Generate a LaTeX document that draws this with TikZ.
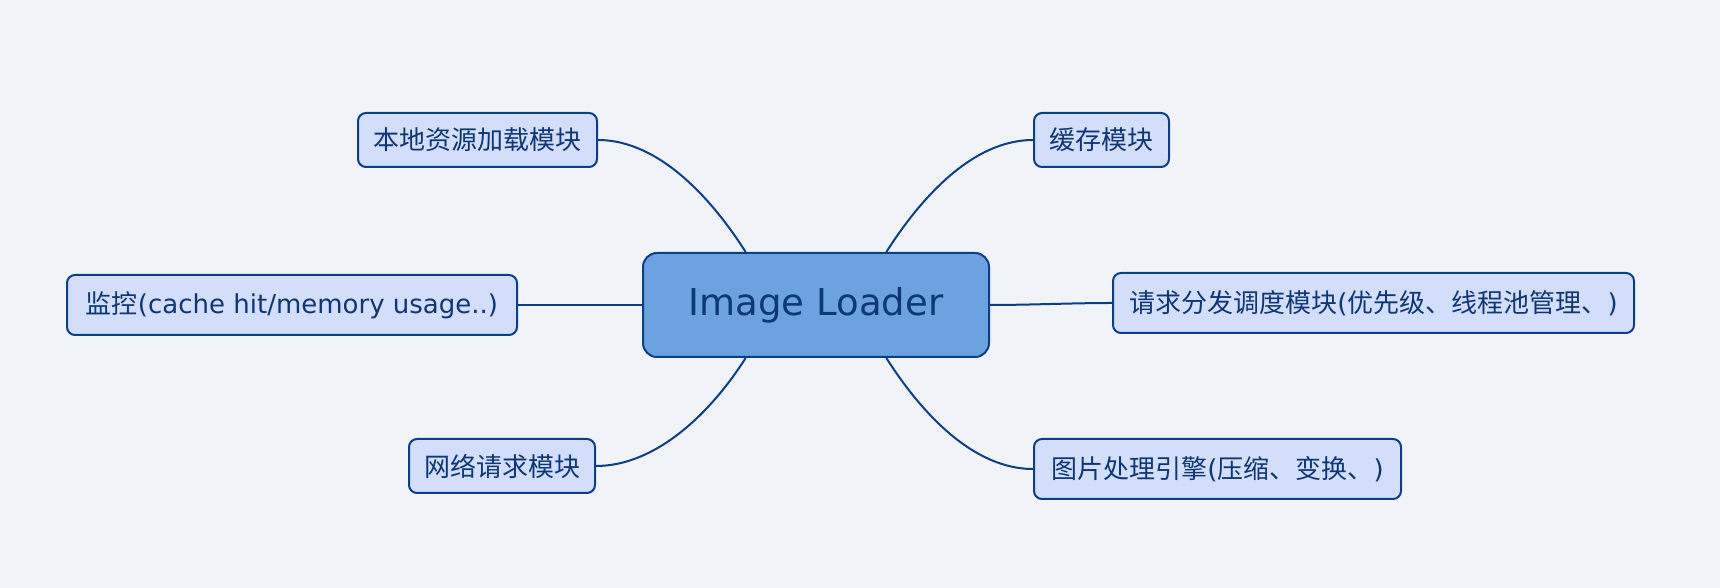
\documentclass[tikz,border=0pt]{standalone}
\usepackage{fontspec}
\setmainfont{DejaVu Sans}
\newfontfamily\cjk{Noto Sans CJK SC}
\usetikzlibrary{positioning}

\definecolor{bgcol}{HTML}{F2F3F9}
\definecolor{mmline}{HTML}{0B3F86}
\definecolor{mmtext}{HTML}{0E3775}
\definecolor{hubfill}{HTML}{6BA2DF}
\definecolor{childfill}{HTML}{D3DEFB}

\tikzset{
  hubbox/.style={draw=mmline, line width=2pt, fill=hubfill, rounded corners=14pt,
    minimum width=346pt, minimum height=104pt, text=mmtext,
    font=\fontsize{37pt}{42pt}\selectfont},
  childbox/.style={draw=mmline, line width=2pt, fill=childfill, rounded corners=8pt,
    minimum height=54pt, inner sep=0pt, text=mmtext,
    font=\fontsize{26pt}{30pt}\selectfont},
  branch/.style={draw=mmline, line width=2pt}
}

\begin{document}
\begin{tikzpicture}[x=1pt, y=1pt]
  \fill[bgcol] (0,0) rectangle (1720,588);
  \useasboundingbox (0,0) rectangle (1720,588);

  % centre
  \node[hubbox] (hub) at (816,283) {Image Loader};

  % left side
  \node[childbox, minimum width=239pt] (local) at (477.5,448) {\cjk 本地资源加载模块};
  \node[childbox, minimum width=450pt, minimum height=60pt] (monitor) at (292,283)
    {{\cjk 监控}(cache hit/memory usage..)};
  \node[childbox, minimum width=186pt] (network) at (502,122) {\cjk 网络请求模块};

  % right side
  \node[childbox, minimum width=135pt] (cache) at (1101.5,448) {\cjk 缓存模块};
  \node[childbox, minimum width=521pt, minimum height=60pt] (dispatch) at (1373.5,285)
    {{\cjk 请求分发调度模块}({\cjk 优先级、线程池管理、})};
  \node[childbox, minimum width=367pt, minimum height=60pt] (imgproc) at (1217.5,119)
    {{\cjk 图片处理引擎}({\cjk 压缩、变换、})};

  % branches
  \draw[branch] (local.east) .. controls +(60,0) and +(-35,55) .. (hub.143);
  \draw[branch] (cache.west) .. controls +(-60,0) and +(35,55) .. (hub.37);
  \draw[branch] (network.east) .. controls +(60,0) and +(-35,-55) .. (hub.217);
  \draw[branch] (imgproc.west) .. controls +(-60,0) and +(35,-55) .. (hub.323);
  \draw[branch] (monitor.east) -- (hub.west);
  \draw[branch] (hub.east) .. controls +(40,0) and +(-40,0) .. (dispatch.west);
\end{tikzpicture}
\end{document}
